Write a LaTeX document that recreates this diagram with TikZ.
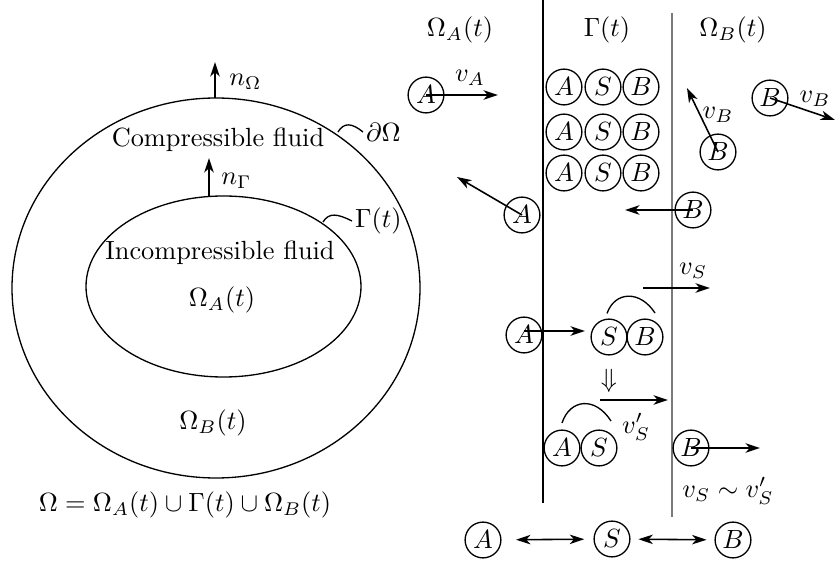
\documentclass[tikz,border=0pt]{standalone}
\usepackage{tikz}
\usepackage{amsmath}
\usetikzlibrary{positioning,arrows.meta}
\definecolor{ifgray}{HTML}{7a7a7a}
\tikzset{
  >={Stealth[length=5.5pt,width=3.6pt,inset=1.6pt]},
  mol/.style={circle,draw,line width=0.5pt,minimum size=13.6pt,inner sep=0pt},
  vel/.style={->,line width=0.6pt},
  bnd/.style={line width=0.5pt}
}

\begin{document}
\begin{tikzpicture}[x=0.38pt,y=-0.38pt]
  \useasboundingbox (0,0) rectangle (836,565);
  % domains
  \draw[bnd] (216,288) ellipse [x radius=204, y radius=190];
  \draw[bnd] (223.5,286.5) ellipse [x radius=137.5, y radius=90.5];
  \coordinate (topO) at (215,98);
  \coordinate (nO) at (215,62);
  \coordinate (topG) at (209,196);
  \coordinate (nG) at (209,158);
  \draw[vel] (topO) -- (nO);
  \draw[vel] (topG) -- (nG);
  \node[anchor=west] (lnO) at (220,82) {$n_\Omega$};
  \node[anchor=west] (lnG) at (212,181) {$n_\Gamma$};
  \node (comp) at (218,140) {Compressible fluid};
  \node (incomp) at (220,253) {Incompressible fluid};
  \node (OmA) at (222,300) {$\Omega_A(t)$};
  \node (OmB) at (213,423) {$\Omega_B(t)$};
  \node (OmEq) at (185,505) {$\Omega=\Omega_A(t)\cup\Gamma(t)\cup\Omega_B(t)$};
  \node[anchor=west,inner sep=1pt] (ldO) at (363,132) {$\partial\Omega$};
  \node[anchor=west,inner sep=1pt] (ldG) at (352,221) {$\Gamma(t)$};
  \coordinate (pO) at (338,132);
  \coordinate (pG) at (323,222);
  \draw[bnd] (pO) .. controls (344,122) and (352,123) .. (ldO.west);
  \draw[bnd] (pG) .. controls (329,212) and (338,214) .. (ldG.west);

  % interface strip
  \coordinate (l1t) at (543,0);
  \coordinate (l1b) at (543,503);
  \coordinate (l2t) at (672,13);
  \coordinate (l2b) at (672,517);
  \draw[line width=0.5pt] (l1t) -- (l1b);
  \draw[ifgray,line width=1pt] (l2t) -- (l2b);
  \node (hA) at (460,30) {$\Omega_A(t)$};
  \node (hG) at (607,30) {$\Gamma(t)$};
  \node (hB) at (733,30) {$\Omega_B(t)$};

  % adsorbed layer
  \foreach \y [count=\i] in {87,132,173} {
    \node[mol] (gA\i) at (564,\y) {$A$};
    \node[mol] (gS\i) at (603,\y) {$S$};
    \node[mol] (gB\i) at (641,\y) {$B$};
  }

  % free molecules
  \node[mol] (a1) at (426,95) {$A$};
  \coordinate (va1) at (498,95);
  \draw[vel] (a1.center) -- (va1);
  \node (lvA) at (470,78) {$v_A$};
  \node[mol] (a2) at (522,215) {$A$};
  \coordinate (va2) at (457,177);
  \draw[vel] (a2.center) -- (va2);
  \node[mol] (b1) at (718,152) {$B$};
  \coordinate (vb1) at (687,88);
  \draw[vel] (b1.center) -- (vb1);
  \node (lvB1) at (718,115) {$v_B$};
  \node[mol] (b2) at (770,98) {$B$};
  \coordinate (vb2) at (835,120);
  \draw[vel] (b2.center) -- (vb2);
  \node (lvB2) at (815,99) {$v_B$};
  \node[mol] (b3) at (693,210) {$B$};
  \coordinate (vb3) at (625,210);
  \draw[vel] (b3.center) -- (vb3);

  % exchange step
  \coordinate (vs0) at (643,288);
  \coordinate (vs1) at (710,288);
  \draw[vel] (vs0) -- (vs1);
  \node (lvS) at (693,271) {$v_S$};
  \node[mol] (a3) at (524,335) {$A$};
  \node[mol] (s1) at (609,337) {$S$};
  \node[mol] (b4) at (645,337) {$B$};
  \coordinate (va3) at (585,331);
  \draw[vel] (a3.center) ++(0,-4) -- (va3);
  \draw[bnd] (s1.north) ++(-2,-5) .. controls (615,291) and (640,290) .. (655,313);
  \node (imp) at (609,381) {$\Downarrow$};
  \coordinate (vt0) at (600,400);
  \coordinate (vt1) at (668,400);
  \draw[vel] (vt0) -- (vt1);
  \node (lvSp) at (636,427) {$v_S'$};
  \node[mol] (a4) at (562,448) {$A$};
  \node[mol] (s2) at (599,448) {$S$};
  \draw[bnd] (562,423) .. controls (570,399) and (595,396) .. (611,421);
  \node[mol] (b5) at (691,448) {$B$};
  \coordinate (vb5) at (760,448);
  \draw[vel] (b5.center) -- (vb5);
  \node (lsim) at (728,491) {$v_S\sim v_S'$};

  % equilibrium
  \node[mol] (eA) at (483,540) {$A$};
  \node[mol] (eS) at (612,539) {$S$};
  \node[mol] (eB) at (733,540) {$B$};
  \draw[<->,line width=0.6pt,shorten <=5.5pt,shorten >=3.5pt] (eA) -- (eS);
  \draw[<->,line width=0.6pt,shorten <=3pt,shorten >=3pt] (eS) -- (eB);
\end{tikzpicture}
\end{document}
